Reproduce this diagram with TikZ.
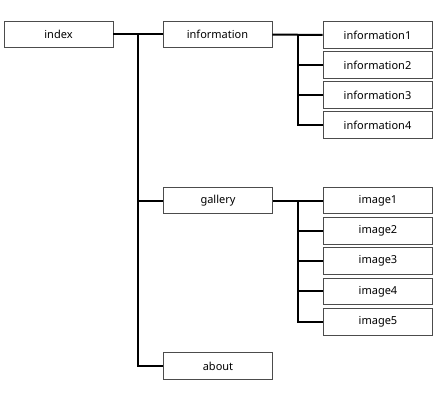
\documentclass[tikz,border=0pt]{standalone}
\usepackage{fontspec}
\setmainfont{Noto Sans}
\usetikzlibrary{calc,positioning}

\begin{document}
\begin{tikzpicture}[
    x=1pt, y=-1pt,
    page/.style={draw=black!70, line width=0.9pt, fill=white,
        minimum width=109pt, minimum height=26.5pt, inner sep=0pt,
        font=\fontsize{11}{13}\selectfont},
    link/.style={line width=2pt},
 ]
    \useasboundingbox (0,0) rectangle (442,404);

    \node[page] (index)   at (58.5,34.5) {index};
    \node[page] (info)    at (217.5,34.5) {information};
    \node[page] (gallery) at (218,200.5) {gallery};
    \node[page] (about)   at (218,366) {about};
    \foreach \i in {1,...,4}
        \node[page] (info\i) at (377.5,{35+30*(\i-1)}) {information\i};
    \foreach \i in {1,...,5}
        \node[page] (img\i) at (378,{200.5+30.3*(\i-1)}) {image\i};

    \coordinate (T) at ($(index.east)!0.5!(info.west)$);
    \coordinate (U) at ($(info.east)!0.5!(info1.west)$);
    \coordinate (V) at ($(gallery.east)!0.5!(img1.west)$);

    \draw[link] (index) -- (info);
    \draw[link] (T) |- (gallery.west);
    \draw[link] (T) |- (about.west);
    \draw[link] (info) -- (info1);
    \foreach \i in {2,3,4}
        \draw[link] (U) |- (info\i.west);
    \draw[link] (gallery) -- (img1);
    \foreach \i in {2,...,5}
        \draw[link] (V) |- (img\i.west);
\end{tikzpicture}
\end{document}
